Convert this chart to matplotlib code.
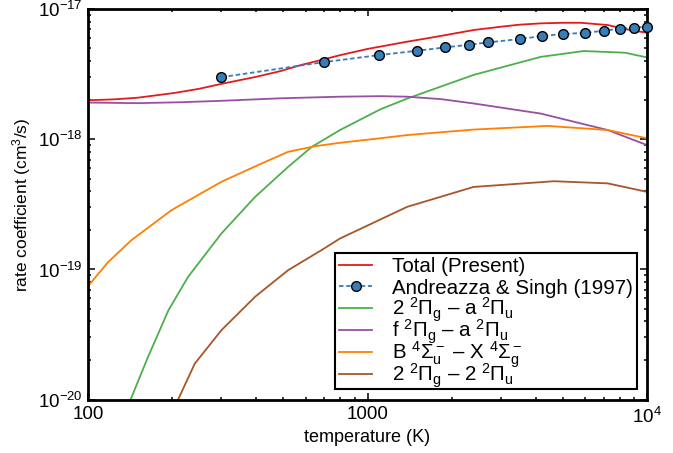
import matplotlib
matplotlib.use('Agg')
import matplotlib.pyplot as plt
from matplotlib.ticker import FixedLocator, FixedFormatter, LogLocator
from matplotlib.transforms import IdentityTransform

plt.rcParams['font.family'] = ['Liberation Sans', 'DejaVu Sans']
plt.rcParams['mathtext.fontset'] = 'custom'
plt.rcParams['mathtext.rm'] = 'Liberation Sans'
plt.rcParams['mathtext.it'] = 'Liberation Sans:italic'
plt.rcParams['mathtext.default'] = 'regular'

# total rate coefficient (present work)
total_T = [100, 123, 150, 202, 250, 297, 400, 488, 575, 695, 800, 1000, 1386, 1720,
           2394, 2995, 3500, 4164, 5000, 5800, 7238, 8500, 10000]
total_k = [2.00e-18, 2.03e-18, 2.09e-18, 2.27e-18, 2.45e-18, 2.66e-18, 3.03e-18, 3.35e-18,
           3.72e-18, 4.12e-18, 4.45e-18, 4.96e-18, 5.64e-18, 6.1e-18, 6.93e-18, 7.35e-18,
           7.62e-18, 7.8e-18, 7.88e-18, 7.88e-18, 7.57e-18, 7.0e-18, 6.6e-18]

# Andreazza & Singh (1997)
as_T = [300, 700, 1100, 1500, 1900, 2300, 2700, 3500, 4200, 5000, 6000, 7000, 8000, 9000, 10000]
as_k = [3.01e-18, 3.93e-18, 4.45e-18, 4.80e-18, 5.10e-18, 5.34e-18, 5.57e-18, 5.91e-18,
        6.23e-18, 6.46e-18, 6.60e-18, 6.84e-18, 7.10e-18, 7.22e-18, 7.35e-18]

# 2 2Pi_g - a 2Pi_u
green_T = [138, 142, 164, 194, 228, 300, 396, 520, 632, 797, 1110, 1386, 2394, 4164,
           5935, 8330, 10000]
green_k = [8.6e-21, 1.0e-20, 2.13e-20, 4.86e-20, 8.77e-20, 1.89e-19, 3.61e-19, 6.15e-19,
           8.77e-19, 1.18e-18, 1.7e-18, 2.06e-18, 3.13e-18, 4.31e-18, 4.78e-18, 4.64e-18,
           4.27e-18]

# f 2Pi_g - a 2Pi_u
purple_T = [100, 150, 213, 300, 488, 797, 1110, 1386, 1830, 2394, 4164, 7238, 10000]
purple_k = [1.92e-18, 1.90e-18, 1.93e-18, 1.98e-18, 2.07e-18, 2.13e-18, 2.15e-18, 2.13e-18,
            2.04e-18, 1.89e-18, 1.58e-18, 1.18e-18, 0.904e-18]

# B 4Sigma_u^- - X 4Sigma_g^-
orange_T = [100, 118, 143, 199, 300, 418, 520, 650, 797, 1110, 1386, 2394, 4400, 7238, 10000]
orange_k = [7.45e-20, 1.14e-19, 1.68e-19, 2.86e-19, 4.72e-19, 6.53e-19, 8.03e-19, 8.87e-19,
            9.42e-19, 1.02e-18, 1.08e-18, 1.19e-18, 1.27e-18, 1.18e-18, 1.02e-18]

# 2 2Pi_g - 2 2Pi_u
brown_T = [203, 210, 241, 300, 396, 520, 685, 797, 1386, 2394, 4650, 7238, 10000]
brown_k = [8.6e-21, 1.0e-20, 1.89e-20, 3.41e-20, 6.17e-20, 9.88e-20, 1.41e-19, 1.73e-19,
           3.03e-19, 4.31e-19, 4.77e-19, 4.59e-19, 3.95e-19]

labels = ['Total (Present)',
          'Andreazza & Singh (1997)',
          r'2 $^2\Pi_g$ – a $^2\Pi_u$',
          r'f $^2\Pi_g$ – a $^2\Pi_u$',
          r'B $^4\Sigma_u^-$ – X $^4\Sigma_g^-$',
          r'2 $^2\Pi_g$ – 2 $^2\Pi_u$']

fig = plt.figure(figsize=(6.73, 4.53), dpi=100)
ax = fig.add_axes([0.1308, 0.118, 0.8306, 0.8614])

lw = 1.3
h1, = ax.plot(total_T, total_k, color='#e41a1c', lw=lw)
h2, = ax.plot(as_T, as_k, color='#377eb8', lw=lw, ls=(0, (2.5, 1.5)), marker='o', ms=7,
              mfc='#377eb8', mec='black', mew=1.0, clip_on=False, zorder=3)
h3, = ax.plot(green_T, green_k, color='#4daf4a', lw=lw)
h4, = ax.plot(purple_T, purple_k, color='#984ea3', lw=lw)
h5, = ax.plot(orange_T, orange_k, color='#ff7f00', lw=lw)
h6, = ax.plot(brown_T, brown_k, color='#a65628', lw=lw)

ax.set_xscale('log')
ax.set_yscale('log')
ax.set_xlim(100, 10000)
ax.set_ylim(1e-20, 1e-17)

ax.xaxis.set_major_locator(FixedLocator([100, 1000, 10000]))
ax.xaxis.set_major_formatter(FixedFormatter(['100', '1000', r'$10^4$']))
ax.xaxis.set_minor_locator(LogLocator(base=10, subs=range(2, 10)))
ax.yaxis.set_minor_locator(LogLocator(base=10, subs=range(2, 10)))

ax.tick_params(which='both', direction='in', top=True, right=True, width=1.1)
ax.tick_params(which='major', length=5)
ax.tick_params(which='minor', length=2.5)
ax.tick_params(axis='x', labelsize=13.5, pad=5)
ax.tick_params(axis='y', labelsize=13.5, pad=3.5)
for s in ax.spines.values():
    s.set_linewidth(2)

ax.set_xlabel('temperature (K)', fontsize=13, labelpad=2)
ax.set_ylabel('rate coefficient (cm$^3$/s)', fontsize=12.5, labelpad=4)

# legend rows use plain placeholders so that all rows get the same height,
# the math labels are then written on the placeholders' baselines
leg_fs = 14.8
placeholders = [lab if '$' not in lab else lab[0] for lab in labels]
leg = ax.legend([h1, h2, h3, h4, h5, h6], placeholders, loc='lower right', fontsize=leg_fs,
                fancybox=False, edgecolor='black', framealpha=1, handlelength=1.6,
                handletextpad=0.95, labelspacing=0.14, borderpad=0.2, borderaxespad=0.5)
leg.get_frame().set_linewidth(1.5)

fig.canvas.draw()
for txt, lab in zip(leg.get_texts(), labels):
    if txt.get_text() != lab:
        x, y = txt.get_transform().transform(txt.get_position())
        txt.set_alpha(0)
        fig.text(x, y, lab, transform=IdentityTransform(), fontsize=leg_fs,
                 ha='left', va='baseline', zorder=10)

fig.savefig('out.png', dpi=100)
